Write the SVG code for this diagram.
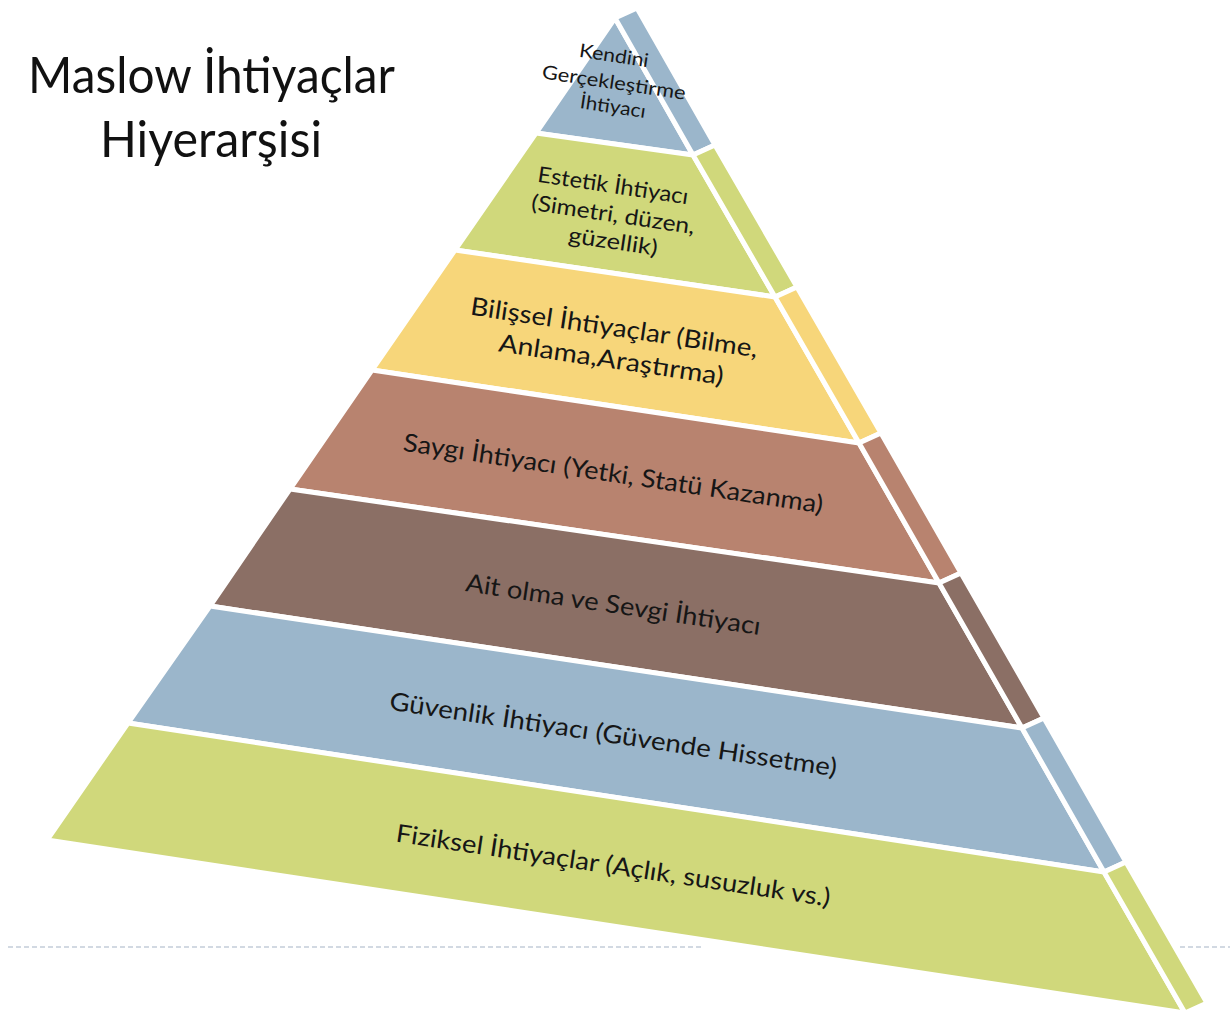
<svg xmlns="http://www.w3.org/2000/svg" width="1230" height="1017" viewBox="0 0 1230 1017">
<style>
.l{stroke:#fff;stroke-width:5;stroke-linejoin:miter}
.blue{fill:#9BB6CB}
.green{fill:#D0D87B}
.yellow{fill:#F7D67A}
.salmon{fill:#B8836F}
.brown{fill:#8B6F65}
.t{font-family:Lato,"Open Sans","DejaVu Sans",sans-serif;fill:#161616;text-anchor:middle}
.title{font-family:Lato,"Open Sans","DejaVu Sans",sans-serif;fill:#111;font-size:50px}
.dash{stroke:#A6B4C6;stroke-width:1.2;stroke-dasharray:5 3}
</style>
<rect width="1230" height="1017" fill="#fff"/>
<line class="dash" x1="8" y1="947" x2="702" y2="947"/>
<line class="dash" x1="1180" y1="947" x2="1230" y2="947"/>
<g id="title">
<text class="title" x="28" y="93" textLength="367" lengthAdjust="spacingAndGlyphs">Maslow İhtiyaçlar</text>
<text class="title" x="100" y="157" textLength="222" lengthAdjust="spacingAndGlyphs">Hiyerarşisi</text>
</g>
<g id="layer1">
<polygon class="l blue" points="615,18 693,155 536,133"/>
<polygon class="l blue" points="615,18 637,8 715,145 693,155"/>
<g transform="translate(613,62) rotate(8.5)"><text class="t" font-size="19" x="0" y="0" textLength="70" lengthAdjust="spacingAndGlyphs">Kendini</text></g>
<g transform="translate(613,89) rotate(8.5)"><text class="t" font-size="19" x="0" y="0" textLength="145" lengthAdjust="spacingAndGlyphs">Gerçekleştirme</text></g>
<g transform="translate(612,113) rotate(8.5)"><text class="t" font-size="19" x="0" y="0" textLength="66" lengthAdjust="spacingAndGlyphs">İhtiyacı</text></g>
</g>
<g id="layer2">
<polygon class="l green" points="536,133 693,155 775,297 455,250"/>
<polygon class="l green" points="693,155 715,145 797,287 775,297"/>
<g transform="translate(612,193) rotate(8.5)"><text class="t" font-size="22" x="0" y="0" textLength="152" lengthAdjust="spacingAndGlyphs">Estetik İhtiyacı</text></g>
<g transform="translate(612,222) rotate(8.5)"><text class="t" font-size="22" x="0" y="0" textLength="165" lengthAdjust="spacingAndGlyphs">(Simetri, düzen,</text></g>
<g transform="translate(612,249) rotate(8.5)"><text class="t" font-size="22" x="0" y="0" textLength="90" lengthAdjust="spacingAndGlyphs">güzellik)</text></g>
</g>
<g id="layer3">
<polygon class="l yellow" points="455,250 775,297 859,443 372,370"/>
<polygon class="l yellow" points="775,297 797,287 881,433 859,443"/>
<g transform="translate(613,336) rotate(8.5)"><text class="t" font-size="25" x="0" y="0" textLength="290" lengthAdjust="spacingAndGlyphs">Bilişsel İhtiyaçlar (Bilme,</text></g>
<g transform="translate(610,368) rotate(8.5)"><text class="t" font-size="25" x="0" y="0" textLength="227" lengthAdjust="spacingAndGlyphs">Anlama,Araştırma)</text></g>
</g>
<g id="layer4">
<polygon class="l salmon" points="372,370 859,443 939,583 290,489"/>
<polygon class="l salmon" points="859,443 881,433 961,573 939,583"/>
<g transform="translate(612,482) rotate(8.5)"><text class="t" font-size="25" x="0" y="0" textLength="424" lengthAdjust="spacingAndGlyphs">Saygı İhtiyacı (Yetki, Statü Kazanma)</text></g>
</g>
<g id="layer5">
<polygon class="l brown" points="290,489 939,583 1022,728 210,606"/>
<polygon class="l brown" points="939,583 961,573 1044,718 1022,728"/>
<g transform="translate(612,613) rotate(8.5)"><text class="t" font-size="25" x="0" y="0" textLength="298" lengthAdjust="spacingAndGlyphs">Ait olma ve Sevgi İhtiyacı</text></g>
</g>
<g id="layer6">
<polygon class="l blue" points="210,606 1022,728 1104,872 128,723"/>
<polygon class="l blue" points="1022,728 1044,718 1126,862 1104,872"/>
<g transform="translate(612,743) rotate(8.5)"><text class="t" font-size="25" x="0" y="0" textLength="452" lengthAdjust="spacingAndGlyphs">Güvenlik İhtiyacı (Güvende Hissetme)</text></g>
</g>
<g id="layer7">
<polygon class="l green" points="128,723 1104,872 1185,1013 47,840"/>
<polygon class="l green" points="1104,872 1126,862 1207,1003 1185,1013"/>
<g transform="translate(612,874) rotate(8.5)"><text class="t" font-size="25" x="0" y="0" textLength="439" lengthAdjust="spacingAndGlyphs">Fiziksel İhtiyaçlar (Açlık, susuzluk vs.)</text></g>
</g>
</svg>
